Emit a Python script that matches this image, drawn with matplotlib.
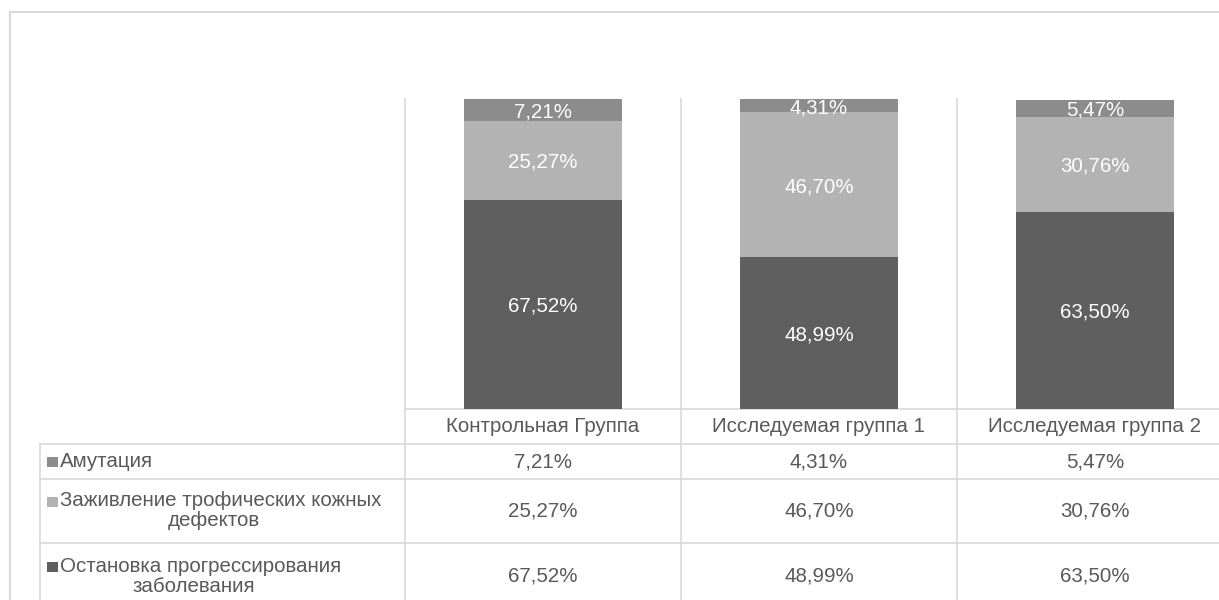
import matplotlib
matplotlib.use('Agg')
import matplotlib.pyplot as plt
from matplotlib.patches import Rectangle


W, H = 1219, 600
DPI = 100

# data
categories = ['Контрольная Группа', 'Исследуемая группа 1', 'Исследуемая группа 2']
series_names = ['Амутация', 'Заживление трофических кожных\nдефектов',
                'Остановка прогрессирования\nзаболевания']
amputation = [7.21, 4.31, 5.47]
healing = [25.27, 46.70, 30.76]
progress_stop = [67.52, 48.99, 63.50]

C_TOP = '#8c8c8c'
C_MID = '#b3b3b3'
C_LOW = '#5f5f5f'
GRID = '#d9d9d9'
TXT = '#595959'

plt.rcParams['font.family'] = ['Liberation Sans', 'DejaVu Sans']
FS = 14.8


def pct(v):
    return '{:.2f}%'.format(v).replace('.', ',')


fig = plt.figure(figsize=(W / DPI, H / DPI), dpi=DPI)

# overlay in pixel coordinates for table and borders
ov = fig.add_axes([0, 0, 1, 1])
ov.set_xlim(0, W)
ov.set_ylim(H, 0)
ov.axis('off')

# plot area
px_left, px_right, px_top, px_bottom = 405, 1233, 99, 409
ax = fig.add_axes([px_left / W, 1 - px_bottom / H,
                   (px_right - px_left) / W, (px_bottom - px_top) / H])
ax.set_xlim(-0.5, len(categories) - 0.5)
ax.set_ylim(0, 100)
ax.axis('off')
ax.patch.set_alpha(0)

x = list(range(len(categories)))
bw = 0.57
stacks = [(progress_stop, C_LOW), (healing, C_MID), (amputation, C_TOP)]
bottoms = [0.0] * len(categories)
for vals, col in stacks:
    ax.bar(x, vals, bw, bottom=bottoms, color=col, linewidth=0, zorder=3)
    for i, v in enumerate(vals):
        ax.text(x[i], bottoms[i] + v / 2 - 0.6, pct(v), ha='center', va='center',
                color='white', fontsize=FS, zorder=4, clip_on=True)
    bottoms = [b + v for b, v in zip(bottoms, vals)]

# category boundaries in pixels, derived from the bar axes scale
fig.canvas.draw()
renderer = fig.canvas.get_renderer()


def to_px(xv):
    return ax.transData.transform((xv, 0))[0]


bounds = [to_px(i - 0.5) for i in range(len(categories) + 1)]
centers = [to_px(i) for i in x]

tbl_left = 40
row_lines = [px_bottom, 444, 479, 543]
lw = 1.2

# outer chart border
ov.plot([10, 10, W + 5], [H + 5, 12, 12], color=GRID, lw=1.5, solid_capstyle='butt')

# vertical grid / table lines
for bx in bounds:
    ov.plot([bx, bx], [px_top, H + 5], color=GRID, lw=lw)
ov.plot([tbl_left, tbl_left], [row_lines[1], H + 5], color=GRID, lw=lw)
# horizontal lines
ov.plot([bounds[0], W + 5], [px_bottom, px_bottom], color=GRID, lw=lw)
for ry in row_lines[1:]:
    ov.plot([tbl_left, W + 5], [ry, ry], color=GRID, lw=lw)

# header
for cx, name in zip(centers, categories):
    ov.text(cx, (row_lines[0] + row_lines[1]) / 2, name, ha='center', va='center',
            color=TXT, fontsize=FS)

row_vals = [amputation, healing, progress_stop]
row_cols = [C_TOP, C_MID, C_LOW]
row_centers = [(row_lines[1] + row_lines[2]) / 2, (row_lines[2] + row_lines[3]) / 2, 576]
for yc, vals, col, nm in zip(row_centers, row_vals, row_cols, series_names):
    lines = nm.split('\n')
    n = len(lines)
    y_first = yc - (n - 1) * 10
    # legend key
    ov.add_patch(Rectangle((47, y_first - 4.5), 11, 10, facecolor=col, edgecolor='none'))
    first = ov.text(60, y_first, lines[0], ha='left', va='center', color=TXT, fontsize=FS)
    if n > 1:
        bb = first.get_window_extent(renderer)
        mid = (47 + bb.x1) / 2
        for k, ln in enumerate(lines[1:], start=1):
            ov.text(mid, y_first + 20 * k, ln, ha='center', va='center', color=TXT, fontsize=FS)
    for cx, v in zip(centers, vals):
        ov.text(cx, yc, pct(v), ha='center', va='center', color=TXT, fontsize=FS)

fig.savefig('out.png', dpi=DPI, facecolor='white')
